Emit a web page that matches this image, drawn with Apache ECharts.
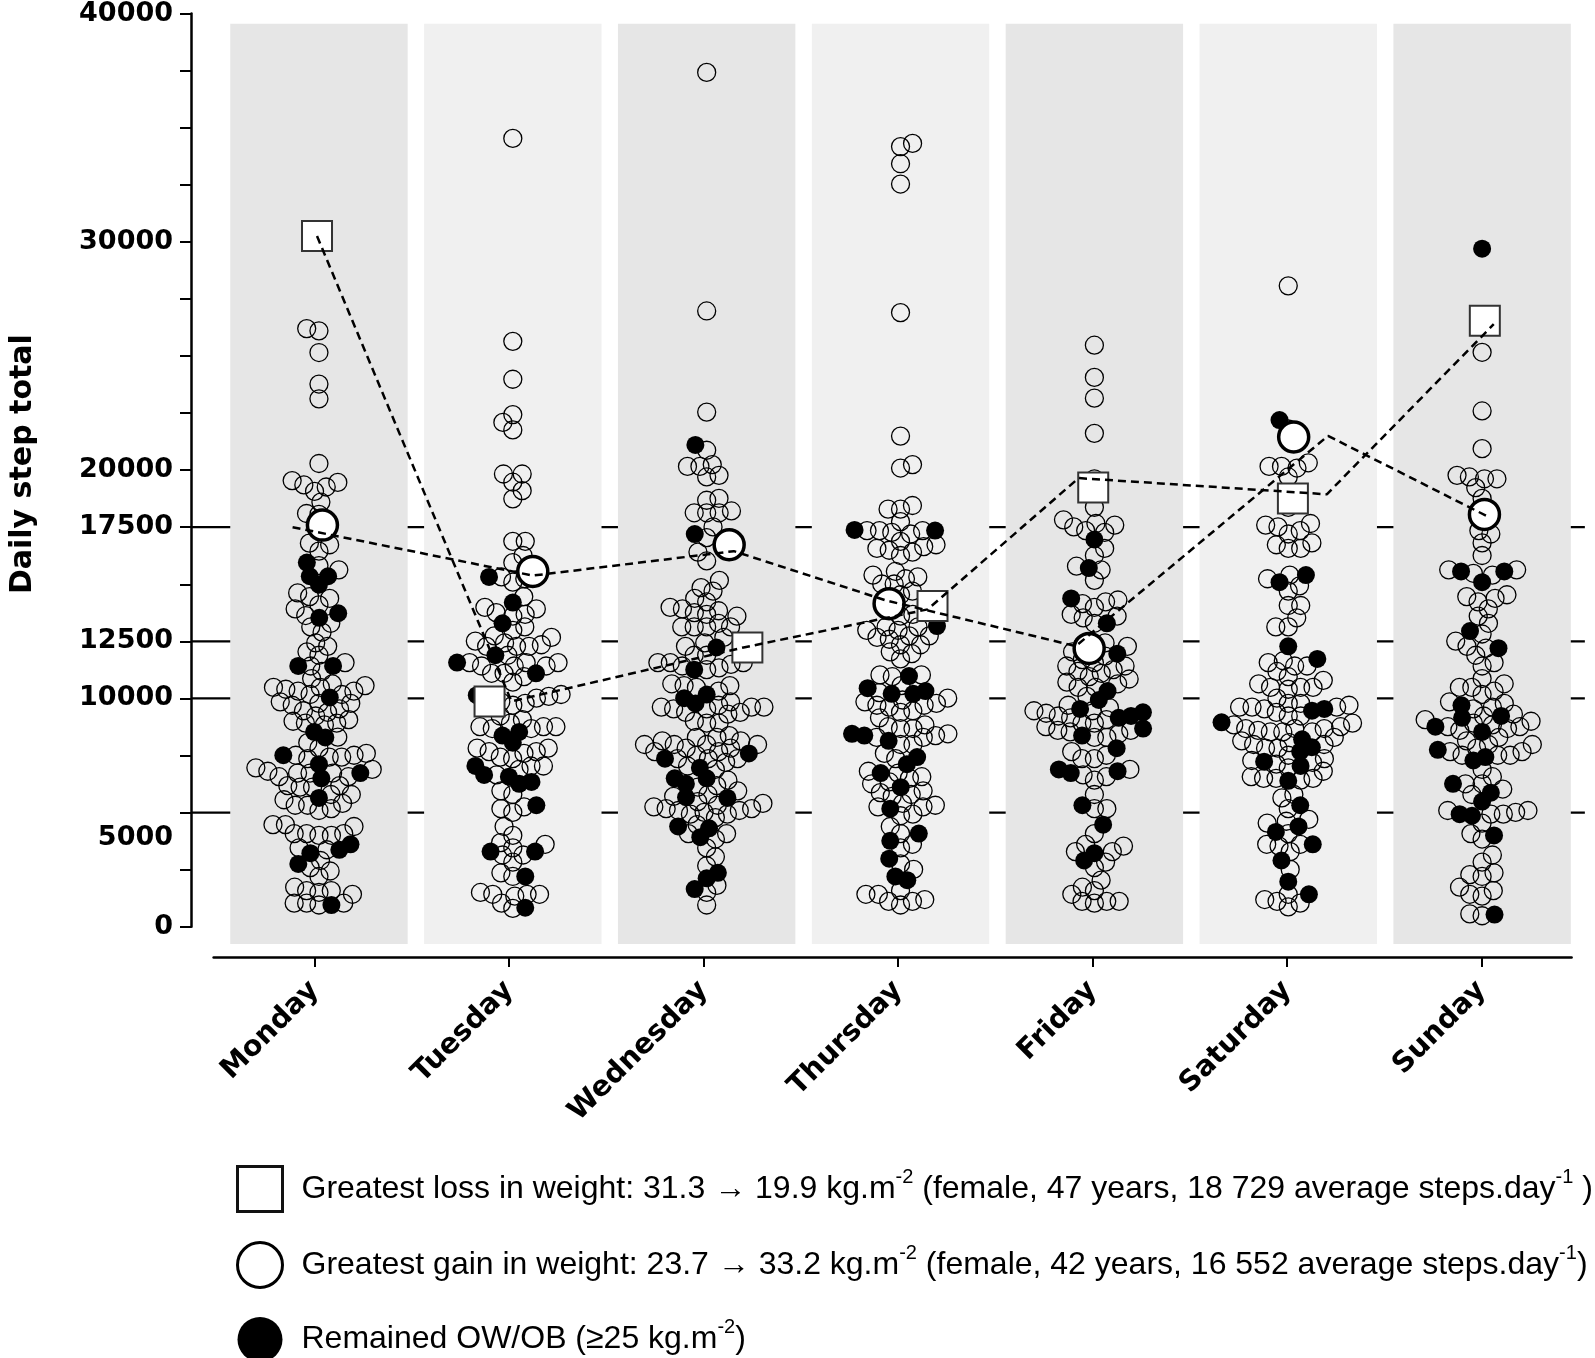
<!DOCTYPE html>
<html><head><meta charset="utf-8">
<script src="https://cdn.jsdelivr.net/npm/echarts@6/dist/echarts.min.js"></script>
<style>html,body{margin:0;padding:0;background:#fff}#c{width:1595px;height:1358px}</style>
</head><body><div id="c"></div>
<script>
// ---------------- DATA ----------------
const days = ['Monday','Tuesday','Wednesday','Thursday','Friday','Saturday','Sunday'];
const yTickLabels = [0,5000,10000,12500,17500,20000,30000,40000];
const refLines = [5000,10000,12500,17500];

const mondayOpen = [26200,26100,25150,23770,23120,20290,19540,19460,19350,19260,19070,18600,18100,18060,16800,16730,16450,15820,15630,14620,14460,14380,14100,13920,13630,13290,13130,12900,12430,12280,12040,11890,11570,11420,11180,10870,10640,10560,10480,10480,10400,10320,10320,10170,10170,9850,9780,9780,9700,9540,9460,9390,9230,9070,9000,8920,8920,8840,8300,8060,7820,7590,7510,7510,7430,7430,7360,6960,6890,6810,6730,6730,6730,6570,6570,6180,6180,6110,6110,5790,5790,5560,5400,5320,5320,5170,5090,4470,4470,4390,4080,4080,4080,4000,4000,3450,3370,2900,2590,2440,2200,1730,1580,1580,1500,1420,1030,1030,1030,950];
const mondayFilled = [15950,15350,15350,14980,13730,13530,11420,11420,10040,8530,8290,7510,7120,6730,6500,5640,3610,3370,3220,2750,950];

const tuesdayOpen = [34530,25640,23980,22430,22090,21760,19830,19830,19470,19100,18740,16880,16880,16260,15950,15320,15240,15090,14460,13990,13920,13760,13680,13600,13130,12980,12740,12670,12510,12430,12350,12280,12280,12280,11890,11570,11570,11570,11420,11420,11420,11100,11100,10950,10710,10170,10090,10010,10010,9850,9780,9700,9230,9070,8920,8760,8760,8760,8680,8680,7820,7820,7670,7670,7590,7430,7360,7040,7040,6890,6650,5950,5790,5250,5170,5010,4390,4000,3680,3610,3450,3140,3140,2830,2360,2200,1500,1420,1420,1420,1340,1030,800];
const tuesdayFilled = [15320,14200,13290,11890,11570,11100,10140,8530,8370,8060,7040,6650,6570,6340,6260,5320,3290,3290,2200,830];

const wednesdayOpen = [37420,26970,22540,20870,20240,20160,20160,19770,19700,18760,18680,18210,18130,18130,18130,17510,17040,16410,16020,15170,14850,14700,14380,14230,13990,13920,13840,13760,13680,13600,13290,13130,13130,13130,13130,12670,12430,12280,11890,11890,11570,11570,11570,11490,11420,11340,11260,10640,10560,10560,10480,10320,9850,9700,9620,9620,9620,9540,9540,9390,9390,9310,9000,8920,8920,8370,8290,8290,8140,8140,7980,7980,7980,7980,7820,7820,7670,7670,7510,7360,7360,7360,7200,7040,6890,6420,6180,6110,5950,5790,5710,5480,5400,5320,5250,5170,5170,5090,5090,5010,4930,4930,4780,4470,4080,4080,3840,3450,3060,2670,1810,1500,950];
const wednesdayFilled = [21100,17200,12230,11260,10170,10010,9780,7590,7360,6960,6500,6500,6260,5670,5640,4390,4310,3920,2360,2120,1650];

const thursdayOpen = [34310,34170,33420,32530,26900,21490,20240,20090,18450,18290,18290,17740,17350,17350,17350,17270,17200,16880,16730,16650,16570,16490,16410,16260,15560,15400,15320,15240,15010,15010,14700,14540,13680,13600,13130,13130,12980,12980,12740,12740,12670,12590,12350,12350,12040,11960,11730,11030,11030,10950,10560,10250,10010,9930,9850,9780,9700,9700,9620,9460,9390,9150,8840,8760,8680,8680,8450,8370,8290,8290,7980,7980,7590,7360,6810,6730,6570,6500,6340,6260,5950,5870,5790,5710,5400,5320,5250,5250,4930,4860,4390,4080,3610,3450,2750,2510,1580,1420,1420,1190,1110,1110,950];
const thursdayFilled = [17350,17380,13170,10980,10450,10320,10200,10200,8450,8370,8140,7430,7120,6730,6110,5170,4080,3760,2980,2200,2040];

const fridayOpen = [25470,24060,23150,21610,19620,18370,17820,17660,17590,17510,17350,17270,16570,16260,15790,15630,15170,14310,14230,14150,13990,13680,13600,13530,13290,12430,12350,12280,12150,12040,11850,11700,11570,11420,11420,11260,11180,11100,10950,10850,10710,10640,10480,10480,10090,9700,9600,9460,9460,9350,9230,9150,9070,8920,8920,8760,8600,8600,8530,8450,8290,8290,7670,7510,7360,7360,6890,6650,6570,6420,5790,5170,5170,4080,3610,3530,3290,3290,2830,2590,2040,1730,1580,1420,1110,1110,1110,1030];
const fridayFilled = [16960,15710,14380,13290,11960,10320,9930,9390,9230,9540,9150,8680,8370,7820,6810,6890,6730,5320,4470,2900,3220];

const saturdayOpen = [28070,21800,20320,20160,20160,20090,19700,18370,17660,17590,17510,17350,17200,16810,16730,16570,16570,15400,15240,14930,14700,14070,14070,13530,13130,13130,11650,11570,11420,11420,11180,10950,10790,10640,10480,10480,10480,10400,10010,9780,9780,9700,9620,9620,9620,9540,9390,9230,9230,8920,8840,8760,8680,8680,8680,8600,8530,8530,8530,8290,8140,8060,7980,7980,7820,7820,7510,7360,7280,7200,7120,6960,6810,6570,6500,6500,6500,6420,5790,5640,5170,4700,4620,4540,4080,3610,3610,3530,3290,2510,1420,1190,1110,1030,870];
const saturdayFilled = [22190,15400,15090,12280,11730,9460,9540,8950,8210,7860,7670,7040,7230,6390,5320,4150,4390,3610,2900,1970,1420];

const sundayOpen = [25160,22590,20940,19770,19700,19620,19620,19230,18760,17350,17200,16810,16260,15630,15630,15480,15400,14540,14460,14380,14230,13920,13600,13290,12820,12510,12280,12200,11890,11570,11420,10870,10640,10480,10480,10320,10170,9850,9780,9620,9540,9310,9230,9070,9000,8920,8840,8760,8760,8680,8600,8290,8140,7980,7980,7820,7670,7670,7510,7510,7510,6890,6570,6260,6260,6030,5790,5090,5090,5010,4930,4930,4540,4080,3840,3140,2830,2360,2280,2200,1730,1580,1420,1340,560,480];
const sundayFilled = [29700,15560,15560,15090,12950,12200,9700,9230,9150,8530,8760,7430,7280,7750,6260,5870,5480,4860,4930,4000,530];

// greatest loss (squares) and greatest gain (large open circles)
const lossValues  = [30250, 9860, 12230, 14050, 19240, 18760, 26540];
const lossOffsets = [-0.01, -0.12, 0.21, 0.165, -0.006, 0.024, 0.014];
const gainValues  = [17590, 15560, 16730, 14150, 12190, 21450, 18060];
const gainOffsets = [0.018, 0.103, 0.116, -0.059, -0.027, 0.028, 0.012];
// dashed connecting lines (position along day axis, value)
const lossLineX = [-0.01, 0.993, 2.19, 3.14, 3.919, 5.199, 6.06];
const lossLineY = [30250, 9870, 12230, 13900, 19650, 18940, 26390];
const gainLineX = [-0.136, 1.104, 2.14, 2.926, 3.904, 5.205, 6.04];
const gainLineY = [17500, 15380, 16450, 14290, 12290, 21500, 17920];

const legendTexts = {
  loss: 'Greatest loss in weight: 31.3 \u2192 19.9 kg.m{sup|-2} (female, 47 years, 18 729 average steps.day{sup|-1} )',
  gain: 'Greatest gain in weight: 23.7 \u2192 33.2 kg.m{sup|-2} (female, 42 years, 16 552 average steps.day{sup|-1})',
  ow: 'Remained OW/OB (\u226525 kg.m{sup|-2})'
};

// ---------------- LAYOUT ----------------
const openByDay = [mondayOpen,tuesdayOpen,wednesdayOpen,thursdayOpen,fridayOpen,saturdayOpen,sundayOpen];
const filledByDay = [mondayFilled,tuesdayFilled,wednesdayFilled,thursdayFilled,fridayFilled,saturdayFilled,sundayFilled];
const X_MIN = -0.66, X_MAX = 6.53;
const GRID_LEFT = 186.4, GRID_TOP = 12.2, GRID_BOTTOM_Y = 926.7;
const PX_PER_DAY = 194.5;
const PX_PER_STEP = (GRID_BOTTOM_Y - GRID_TOP) / 40000;
const SWARM_D = 12.5;
const BAND_HALF = 0.4576, BAND_TOP = 39550, BAND_BOTTOM = -760;

function swarm(items) {
  const sorted = items.slice().sort((a, b) => a.v - b.v);
  const placed = [];
  let flip = 1;
  for (const it of sorted) {
    const y = it.v * PX_PER_STEP;
    const near = placed.filter(p => Math.abs(p.y - y) < SWARM_D);
    const cands = [0];
    for (const p of near) {
      const dx = Math.sqrt(SWARM_D * SWARM_D - (p.y - y) * (p.y - y));
      cands.push(p.x + dx, p.x - dx);
    }
    cands.sort((a, b) => (Math.abs(a) - Math.abs(b)) || (flip * (a - b)));
    let x = 0;
    for (const c of cands) {
      if (near.every(p => (p.x - c) * (p.x - c) + (p.y - y) * (p.y - y) >= SWARM_D * SWARM_D - 1e-6)) { x = c; break; }
    }
    flip = -flip;
    placed.push({ x, v: it.v, f: it.f, y });
  }
  return placed;
}

const openData = [], filledData = [];
days.forEach((d, i) => {
  const items = openByDay[i].map(v => ({ v, f: 0 })).concat(filledByDay[i].map(v => ({ v, f: 1 })));
  swarm(items).forEach(p => {
    const pt = [i + p.x / PX_PER_DAY, p.v];
    (p.f ? filledData : openData).push(pt);
  });
});
const lossData = lossValues.map((v, i) => [i + lossOffsets[i], v]);
const gainData = gainValues.map((v, i) => [i + gainOffsets[i], v]);
const lossLine = lossLineX.map((x, i) => [x, lossLineY[i]]);
const gainLine = gainLineX.map((x, i) => [x, gainLineY[i]]);

const yFont = { fontFamily: 'DejaVu Sans', fontWeight: 'bold', fontSize: 27, color: '#000' };
const xFont = { fontFamily: 'DejaVu Sans', fontWeight: 'bold', fontSize: 28.5, color: '#000' };

const chart = echarts.init(document.getElementById('c'), null, { renderer: 'canvas' });
chart.setOption({
  animation: false,
  backgroundColor: '#fff',
  grid: [
    { left: GRID_LEFT, top: GRID_TOP, right: 1595 - (GRID_LEFT + PX_PER_DAY * (X_MAX - X_MIN)), bottom: 1358 - GRID_BOTTOM_Y },
    { left: 213.6, right: 23.4, top: 900, bottom: 401 }
  ],
  xAxis: [
    { type: 'value', gridIndex: 0, min: X_MIN, max: X_MAX, show: false },
    { type: 'value', gridIndex: 1, min: -0.520, max: 6.462, position: 'bottom',
      axisLine: { show: true, onZero: false, lineStyle: { color: '#000', width: 2.5 } },
      axisTick: { show: true, customValues: [0,1,2,3,4,5,6], length: 10, lineStyle: { color: '#000', width: 2 } },
      axisLabel: { customValues: [0,1,2,3,4,5,6], formatter: v => days[Math.round(v)], rotate: 45, margin: 29, ...xFont },
      splitLine: { show: false } }
  ],
  yAxis: [
    { type: 'value', gridIndex: 0, min: 0, max: 40000, interval: 2500, position: 'left',
      axisLine: { show: true, onZero: false, lineStyle: { color: '#000', width: 2.5 } },
      axisTick: { show: true, length: 11, lineStyle: { color: '#000', width: 2 } },
      splitLine: { show: false },
      axisLabel: { customValues: yTickLabels, margin: 18,
        formatter: v => v === 5000 ? '{low|5000}' : '{n|' + v + '}',
        rich: { n: { ...yFont }, low: { ...yFont, padding: [50, 0, 0, 0] } } },
      name: 'Daily step total', nameLocation: 'middle', nameGap: 153,
      nameTextStyle: { fontFamily: 'DejaVu Sans', fontWeight: 'bold', fontSize: 30, color: '#000', padding: [0, 0, 0, 12] } },
    { type: 'value', gridIndex: 1, show: false, min: 0, max: 1 }
  ],
  legend: {
    orient: 'vertical', left: 236, top: 1165, height: 200, padding: 0,
    itemWidth: 45, itemHeight: 45, itemGap: 28,
    selectedMode: false,
    data: [
      { name: 'loss', icon: 'rect', itemStyle: { color: '#fff', borderColor: '#111', borderWidth: 3 } },
      { name: 'gain', icon: 'circle', itemStyle: { color: '#fff', borderColor: '#000', borderWidth: 3 } },
      { name: 'ow', icon: 'circle', itemStyle: { color: '#000', borderColor: '#000', borderWidth: 0 } }
    ],
    formatter: n => legendTexts[n],
    textStyle: { fontFamily: 'Liberation Sans', fontSize: 32, lineHeight: 44, color: '#000', padding: [0, 0, 0, 14],
      rich: { sup: { fontFamily: 'Liberation Sans', fontSize: 20, lineHeight: 20, color: '#000', verticalAlign: 'top' } } }
  },
  series: [
    { type: 'custom', name: 'refs', xAxisIndex: 0, yAxisIndex: 0, z: 0, silent: true, clip: false,
      data: refLines.map(v => [0, v]),
      renderItem: (params, api) => {
        const v = api.value(1);
        const a = api.coord([X_MIN, v]), b = api.coord([X_MAX, v]);
        return { type: 'line', shape: { x1: a[0], y1: a[1], x2: b[0], y2: b[1] }, style: { stroke: '#000', lineWidth: 2.2 } };
      } },
    { type: 'custom', name: 'bands', xAxisIndex: 0, yAxisIndex: 0, z: 1, silent: true, clip: false,
      data: days.map((d, i) => [i, i % 2]),
      renderItem: (params, api) => {
        const i = api.value(0);
        const a = api.coord([i - BAND_HALF, BAND_TOP]), b = api.coord([i + BAND_HALF, BAND_BOTTOM]);
        return { type: 'rect', shape: { x: a[0], y: a[1], width: b[0] - a[0], height: b[1] - a[1] },
          style: { fill: api.value(1) === 0 ? '#e6e6e6' : '#f0f0f0' } };
      } },
    { type: 'scatter', name: 'all', xAxisIndex: 0, yAxisIndex: 0, z: 2, silent: true, data: openData,
      symbol: 'circle', symbolSize: 18,
      itemStyle: { color: 'rgba(0,0,0,0)', borderColor: '#000', borderWidth: 1.3, opacity: 1 } },
    { type: 'scatter', name: 'ow', xAxisIndex: 0, yAxisIndex: 0, z: 3, silent: true, data: filledData,
      symbol: 'circle', symbolSize: 18, itemStyle: { color: '#000', opacity: 1 } },
    { type: 'scatter', name: 'gain', xAxisIndex: 0, yAxisIndex: 0, z: 4, silent: true, data: gainData,
      symbol: 'circle', symbolSize: 30, itemStyle: { color: '#fff', borderColor: '#000', borderWidth: 3.5, opacity: 1 } },
    { type: 'scatter', name: 'loss', xAxisIndex: 0, yAxisIndex: 0, z: 4, silent: true, data: lossData,
      symbol: 'rect', symbolSize: 30, itemStyle: { color: '#fff', borderColor: '#333', borderWidth: 2, opacity: 1 } },
    { type: 'line', name: 'gainLine', xAxisIndex: 0, yAxisIndex: 0, z: 5, silent: true, data: gainLine,
      symbol: 'none', lineStyle: { color: '#000', width: 2.5, type: [8, 5] } },
    { type: 'line', name: 'lossLine', xAxisIndex: 0, yAxisIndex: 0, z: 5, silent: true, data: lossLine,
      symbol: 'none', lineStyle: { color: '#000', width: 2.5, type: [8, 5] } }
  ]
});
</script>
</body></html>
